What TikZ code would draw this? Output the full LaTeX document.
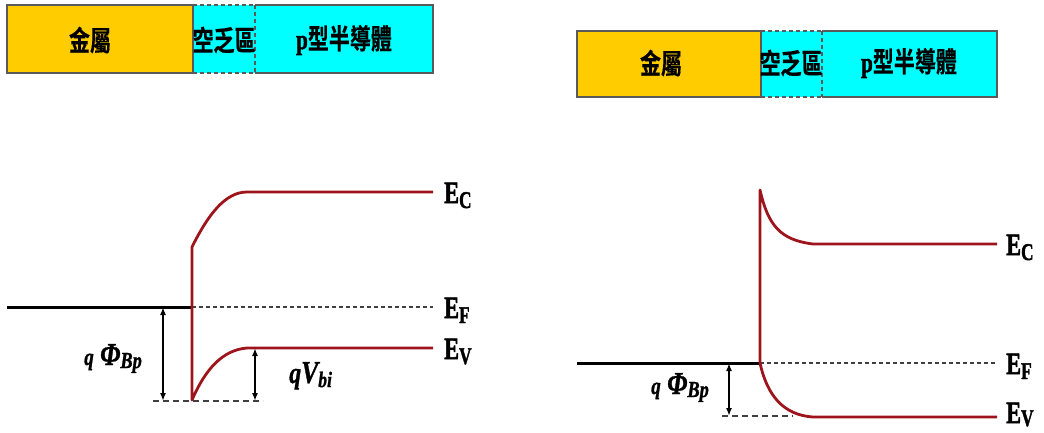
\documentclass[tikz,border=0pt]{standalone}
\usepackage{fontspec}
\setmainfont{Liberation Serif}[BoldFont={Liberation Serif Bold},BoldItalicFont={Liberation Serif Bold Italic}]
\newfontfamily\heavy{Liberation Serif Bold}[FakeBold=2]
\newfontfamily\heavyit{Liberation Serif Bold Italic}[FakeBold=1.2]
\newfontfamily\cjk{Noto Sans CJK TC Bold}[FakeBold=0.5]
\usetikzlibrary{arrows.meta}
\definecolor{metalc}{RGB}{255,204,0}
\definecolor{depc}{RGB}{0,255,255}
\definecolor{bandc}{RGB}{158,20,28}
\definecolor{edgec}{RGB}{90,90,90}
\newcommand{\hsq}[2]{\scalebox{#1}[1]{#2}}
\newcommand{\Elab}[2][-5pt]{\hsq{0.72}{\heavy\fontsize{31}{31}\selectfont E\raisebox{#1}{\fontsize{24}{24}\selectfont #2}}}
\newcommand{\qphi}{\hsq{0.8}{\heavyit\fontsize{24}{24}\selectfont q\hspace{8pt}\fontsize{32}{32}\selectfont \char"03A6\raisebox{-3pt}{\fontsize{23}{23}\selectfont Bp}}}
\newcommand{\qvbi}{\hsq{0.8}{\heavyit\fontsize{30}{30}\selectfont q\fontsize{32}{32}\selectfont V\raisebox{-4pt}{\fontsize{22}{22}\selectfont bi}}}
\tikzset{
  boxline/.style={draw=edgec,line width=1.4pt},
  boxdash/.style={draw=edgec,line width=1.4pt,dash pattern=on 4pt off 3pt},
  cjklab/.style={inner sep=0pt,font=\fontsize{28}{28}\selectfont},
  band/.style={draw=bandc,line width=2.8pt,line join=round},
  fermi/.style={draw=black,line width=3pt},
  fdash/.style={draw=black!75,line width=1.6pt,dash pattern=on 4pt off 3pt},
  bdash/.style={draw=black!75,line width=1.7pt,dash pattern=on 6pt off 4pt},
  dim/.style={draw=black,line width=1.6pt,{Latex[length=8pt,width=6pt]}-{Latex[length=8pt,width=6pt]}},
  elab/.style={inner sep=0pt,anchor=base west},
}
\begin{document}
\begin{tikzpicture}[x=1pt,y=-1pt]
\useasboundingbox (0,0) rectangle (1044,432);
% ---------- left top bar ----------
\fill[metalc] (7,5) rectangle (193,73);
\fill[depc] (193,5) rectangle (433,73);
\draw[boxline] (7,5) rectangle (193,73);
\draw[boxdash] (193,5) -- (255,5) (193,73) -- (255,73) (255,5) -- (255,73);
\draw[boxline] (255,5) -- (433,5) -- (433,73) -- (255,73);
\node[cjklab] (metL) at (90,40) {\hsq{0.75}{\cjk 金屬}};
\node[cjklab] (depL) at (224,40) {\hsq{0.75}{\cjk 空乏區}};
\node[cjklab] (semL) at (344,40) {\hsq{0.75}{\heavy p\cjk 型半導體}};
% ---------- right top bar ----------
\fill[metalc] (577,31) rectangle (761,97);
\fill[depc] (761,31) rectangle (997,97);
\draw[boxline] (577,31) rectangle (761,97);
\draw[boxdash] (761,31) -- (822,31) (761,97) -- (822,97) (822,31) -- (822,97);
\draw[boxline] (822,31) -- (997,31) -- (997,97) -- (822,97);
\node[cjklab] (metR) at (661,63) {\hsq{0.75}{\cjk 金屬}};
\node[cjklab] (depR) at (791,63) {\hsq{0.75}{\cjk 空乏區}};
\node[cjklab] (semR) at (909,63) {\hsq{0.75}{\heavy p\cjk 型半導體}};
% ---------- left band diagram ----------
\coordinate (lEFa) at (7,307);
\coordinate (lJ) at (192,307);
\coordinate (lEFb) at (433,307);
\coordinate (lD1) at (153,401);
\coordinate (lD2) at (263,401);
\coordinate (lA1t) at (163,307);
\coordinate (lA1b) at (163,401);
\coordinate (lA2t) at (255,348);
\coordinate (lA2b) at (255,401);
\draw[fdash] (lJ) -- (lEFb);
\draw[bdash] (lD1) -- (lD2);
\draw[fermi] (lEFa) -- (lJ);
\draw[band] (433,192) -- (247,192) .. controls (225,192) and (208,215) .. (192,247) -- (192,400)
   .. controls (205,370) and (222,350) .. (247,348) -- (433,348);
\draw[dim] (lA1t) -- (lA1b);
\draw[dim] (lA2t) -- (lA2b);
\node[elab] (lEC) at (444,203) {\Elab{C}};
\node[elab] (lEF) at (444,318) {\Elab{F}};
\node[elab] (lEV) at (444,359) {\Elab{V}};
\node[elab] (lphi) at (84,365) {\qphi};
\node[elab] (lvbi) at (289,383) {\qvbi};
% ---------- right band diagram ----------
\coordinate (rEFa) at (577,363);
\coordinate (rJ) at (760,363);
\coordinate (rEFb) at (997,363);
\coordinate (rD1) at (722,416);
\coordinate (rD2) at (793,416);
\coordinate (rAt) at (729,363);
\coordinate (rAb) at (729,416);
\draw[fdash] (rJ) -- (rEFb);
\draw[bdash] (rD1) -- (rD2);
\draw[fermi] (rEFa) -- (rJ);
\draw[band] (997,244) -- (813,244) .. controls (780,240) and (768,225) .. (760,190) -- (760,363)
   .. controls (767,395) and (783,415) .. (813,417) -- (997,417);
\draw[dim] (rAt) -- (rAb);
\node[elab] (rEC) at (1006,255) {\Elab{C}};
\node[elab] (rEF) at (1006,374) {\Elab{F}};
\node[elab] (rEV) at (1006,423) {\Elab[-3pt]{V}};
\node[elab] (rphi) at (651,394) {\qphi};
\end{tikzpicture}
\end{document}
